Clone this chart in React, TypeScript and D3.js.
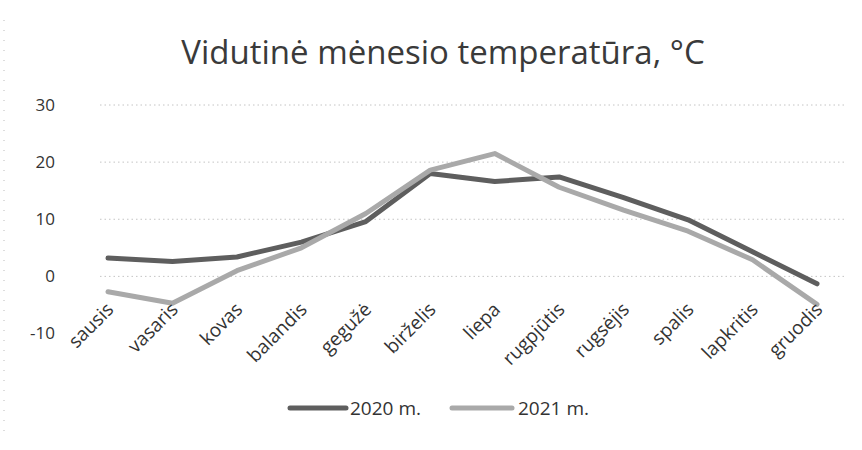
import React from "react";
import * as d3 from "d3";

const months = ["sausis", "vasaris", "kovas", "balandis", "gegužė", "birželis", "liepa", "rugpjūtis", "rugsėjis", "spalis", "lapkritis", "gruodis"];
const values2020 = [3.2, 2.6, 3.4, 6.0, 9.6, 18.0, 16.6, 17.4, 13.8, 9.9, 4.3, -1.3];
const values2021 = [-2.7, -4.7, 1.0, 5.0, 11.0, 18.6, 21.5, 15.6, 11.6, 7.9, 2.9, -4.9];
const yTicks = [-10, 0, 10, 20, 30];
const seriesNames = ["2020 m.", "2021 m."];
const title = "Vidutinė mėnesio temperatūra, °C";

const W = 862, H = 450;
const FONT = "'Open Sans', 'Noto Sans', sans-serif";

export default function App() {
  const x = d3.scalePoint<string>().domain(months).range([108, 817]);
  const y = d3.scaleLinear().domain([-10, 30]).range([333.5, 105]);
  const line = d3.line<number>().x((_, i) => x(months[i])!).y((d) => y(d));
  const series = [
    { name: seriesNames[0], values: values2020, color: "#5e5e5e" },
    { name: seriesNames[1], values: values2021, color: "#a9a9a9" },
  ];
  return (
    <svg width={W} height={H} style={{ position: "fixed", left: 0, top: 0, background: "#fff" }} fontFamily={FONT}>
      <rect width={W} height={H} fill="#fff" />
      <line x1={4} x2={4} y1={20} y2={440} stroke="#bbb" strokeDasharray="1,9" />
      <text x={443} y={64} textAnchor="middle" fontSize={33} fill="#3a3a3a">{title}</text>
      {yTicks.map((t) => (
        <g key={t}>
          {t !== -10 && (
            <line x1={100} x2={845} y1={y(t)} y2={y(t)} stroke="#c4c4c4" strokeDasharray="1.5,3" />
          )}
          <text x={55} y={y(t)} dy="0.35em" textAnchor="end" fontSize={17} fill="#333">{t}</text>
        </g>
      ))}
      {series.map((s) => (
        <path key={s.name} d={line(s.values)!} fill="none" stroke={s.color} strokeWidth={5} strokeLinejoin="round" strokeLinecap="round" />
      ))}
      {months.map((m) => (
        <text key={m} transform={`translate(${x(m)! + 2},${306}) rotate(-45)`} textAnchor="end" dy="0.35em" fontSize={19} fill="#333">{m}</text>
      ))}
      <g>
        <line x1={290} x2={346} y1={408} y2={408} stroke={series[0].color} strokeWidth={5} strokeLinecap="round" />
        <text x={350} y={408} dy="0.35em" fontSize={19} fill="#333">{series[0].name}</text>
        <line x1={452} x2={512} y1={408} y2={408} stroke={series[1].color} strokeWidth={5} strokeLinecap="round" />
        <text x={518} y={408} dy="0.35em" fontSize={19} fill="#333">{series[1].name}</text>
      </g>
    </svg>
  );
}
